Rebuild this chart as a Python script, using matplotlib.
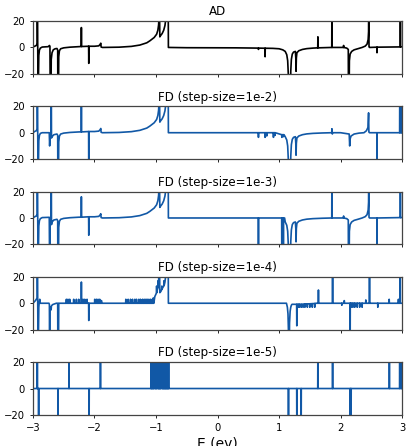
import numpy as np
import matplotlib
matplotlib.use("Agg")
import matplotlib.pyplot as plt

# ---------------- data ----------------
titles = ["AD", "FD (step-size=1e-2)", "FD (step-size=1e-3)",
          "FD (step-size=1e-4)", "FD (step-size=1e-5)"]
xticks = [-3, -2, -1, 0, 1, 2, 3]
yticks = [-20, 0, 20]
xlabel = "E (ev)"

# shared pole shape around E = -0.95 (values beyond +-20 are clipped)
pole_x = [-1.6, -1.4, -1.263, -1.15, -1.1, -1.03, -0.99, -0.97, -0.958, -0.949,
          -0.946, -0.938, -0.925, -0.9, -0.875, -0.855, -0.842, -0.838, -0.802, -0.799]
pole_y = [0.2, 0.8, 1.8, 3.5, 5, 7.5, 10, 13, 17, 25,
          40, 8, 9, 10.5, 13, 16.5, 21, 40, 40, 0]

# ---- AD ----
ad_x = [-3.0, -2.97, -2.945, -2.932, -2.929, -2.916, -2.905, -2.895, -2.88, -2.85,
        -2.75, -2.732, -2.724, -2.719, -2.708, -2.703, -2.69, -2.67, -2.64, -2.61,
        -2.598, -2.595, -2.586, -2.581, -2.57, -2.55, -2.5, -2.4, -2.25, -2.0,
        -1.93, -1.905, -1.898, -1.892, -1.87] + pole_x + [
        -0.5, 0.3, 0.62, 0.9, 1.0, 1.06, 1.1, 1.125, 1.14, 1.15,
        1.153, 1.186, 1.19, 1.2, 1.215, 1.235, 1.265, 1.272, 1.276, 1.281,
        1.29, 1.32, 1.38, 1.45, 1.55, 1.7, 2.0, 2.1, 2.125, 2.128,
        2.138, 2.143, 2.155, 2.18, 2.22, 2.28, 2.35, 2.4, 2.43, 2.448,
        2.455, 2.457, 2.462, 2.47, 2.8, 3.0]
ad_y = [0.3, 1.0, 1.5, 3, 40, -40, -6, -2, -0.5, 0.3,
        0.6, 1.5, 0.8, -40, -40, -9, -4, -1.8, -1.0, -0.8,
        -2, -40, -40, -7, -2.5, -1, -0.3, 0.2, 0.6, 0.9,
        1.2, 2.5, 3.2, 0.3, 0] + pole_y + [
        -0.2, -0.3, -0.5, -0.7, -1, -1.8, -3, -5.5, -10, -20,
        -40, -40, -18, -9, -5, -3.5, -3, -8, -18, -8,
        -4, -2.5, -1.5, -0.9, -0.5, -0.2, 0, -0.5, -1.5, -40,
        -40, -10, -5, -3, -1.8, -1, 0, 1, 2.5, 6,
        12, 40, 0.5, 0, 0.3, 0.5]
ad_sx = [-2.213, -2.093, 0.665, 0.773, 1.631, 1.859, 2.049, 2.592, 2.972]
ad_sy = [15, -12, -1.5, -7, 8, 40, 1.5, -4, 40]
ad_sb = [0.7, 0.9, -0.5, -0.6, -0.3, 0, 0, 0.2, 0.4]

# ---- FD 1e-2 ----
fd2_x = [-3.0, -2.97, -2.945, -2.932, -2.929, -2.916, -2.905, -2.895, -2.88, -2.85,
         -2.735, -2.729, -2.722, -2.706, -2.702, -2.699, -2.69, -2.66, -2.61,
         -2.598, -2.595, -2.586, -2.581, -2.57, -2.55, -2.5, -2.4, -2.25, -2.0,
         -1.93, -1.905, -1.898, -1.892, -1.87] + pole_x + [
         0.6, 1.08, 1.1, 1.125, 1.14, 1.15,
         1.153, 1.186, 1.19, 1.2, 1.215, 1.235, 1.265, 1.272, 1.276, 1.281,
         1.29, 1.32, 1.38, 1.45, 1.55, 1.7, 2.0, 2.14, 2.148, 2.153,
         2.17, 2.22, 2.3, 2.38, 2.42, 2.445, 2.455, 2.46, 2.47, 3.0]
fd2_y = [0, 1.0, 1.5, 3, 40, -40, -6, -2, -0.5, 0,
         0, -10, -3, -2, 40, -4, -3, -1.5, -1,
         -2, -40, -40, -7, -2.5, -1, -0.3, 0.2, 0.6, 0.9,
         1.2, 2.5, 3.2, 0.3, 0] + pole_y + [
         0, -1.5, -3, -5.5, -10, -20,
         -40, -40, -18, -9, -5, -3.5, -3, -8, -17, -8,
         -4, -2.5, -1.5, -0.9, -0.5, -0.2, 0, -1, -10, -5,
         -2.5, -1, -0.3, 0, 1.5, 4, 15, 0.5, 0, 0]
fd2_sx = [-2.213, -2.093, 0.665, 0.773, 0.80, 0.909, 0.935, 1.045, 1.07,
          1.859, 1.866, 2.592, 2.962, 2.985]
fd2_sy = [40, -40, -3.5, -3.5, -2.5, -3.5, -2, -3.5, -3,
          3, -1, -40, 40, 40]
fd2_sb = [0.6, 0.9, 0, 0, 0, 0, 0, -1.5, -1.5,
          0, 0, 0, 0, 0]

# ---- FD 1e-3 ----
fd3_x = [-3.0, -2.97, -2.945, -2.932, -2.929, -2.916, -2.905, -2.895, -2.88, -2.85,
         -2.735, -2.729, -2.722, -2.706, -2.702, -2.699, -2.69, -2.66, -2.61,
         -2.598, -2.595, -2.586, -2.581, -2.57, -2.55, -2.5, -2.4, -2.25, -2.0,
         -1.93, -1.905, -1.898, -1.892, -1.87] + pole_x + [
         1.09, 1.1, 1.125, 1.14, 1.15,
         1.153, 1.186, 1.19, 1.2, 1.215, 1.235, 1.265, 1.272, 1.276, 1.281,
         1.29, 1.32, 1.38, 1.45, 1.55, 1.7, 2.0, 2.1, 2.125, 2.128,
         2.138, 2.143, 2.155, 2.18, 2.22, 2.28, 2.35, 2.4, 2.43, 2.448,
         2.455, 2.457, 2.462, 2.47, 3.0]
fd3_y = [0, 1.0, 1.5, 3, 40, -40, -6, -2, -0.5, 0.3,
         0.5, -40, -5, -3, 40, -5, -3, -1.5, -1,
         -2, -40, -40, -7, -2.5, -1, -0.3, 0.2, 0.6, 0.9,
         1.2, 2.5, 3.2, 0.3, 0] + pole_y + [
         0, -3, -5.5, -10, -20,
         -40, -40, -18, -9, -5, -3.5, -3, -8, -18, -8,
         -4, -2.5, -1.5, -0.9, -0.5, -0.2, 0, -0.5, -1.5, -40,
         -40, -10, -5, -3, -1.8, -1, 0, 1, 2.5, 6,
         12, 40, 0.5, 0, 0.3]
fd3_sx = [-2.213, -2.093, 0.665, 1.045, 1.07, 1.859, 2.049, 2.592, 2.972]
fd3_sy = [16, -13, -40, -40, -40, 40, 1.5, -40, 40]
fd3_sb = [0.6, 0.9, 0, 0, 0, 0, 0, 0, 0.3]

# ---- FD 1e-4 ----
fd4_x = [-3.0, -2.96, -2.94, -2.932, -2.929, -2.916, -2.905, -2.9, -2.89, -2.885,
         -2.74, -2.733, -2.729, -2.725, -2.715, -2.705, -2.70, -2.68, -2.62, -2.598,
         -2.595, -2.586, -2.581, -1.035, -1.02, -1.0, -0.98, -0.96, -0.95,
         -0.946, -0.938, -0.92, -0.9, -0.875, -0.855, -0.842, -0.838, -0.802, -0.799,
         1.12, 1.135, 1.145, 1.152, 1.156, 1.166, 1.17, 1.18, 1.19, 1.2,
         1.21, 1.3, 1.5, 1.6, 3.0]
fd4_y = [0, 2, 3.5, 4, 40, -40, -3, 0, 3, 0,
         0, -1, -40, -5, -3, -5, -2, -1, 0, 0,
         -40, -40, 0, 0, 5, 7, 10, 15, 25,
         40, 8, 9, 11, 13, 16, 21, 40, 40, 0,
         0, -3, -8, -20, -40, -40, -15, -6, -3, -1.5,
         -0.8, -0.8, -0.5, 0, 0]
fd4_sx = [-2.457, -2.431, -2.403, -2.338, -2.294, -2.256, -2.213, -2.186, -2.158, -2.121,
          -2.093, -1.996, -1.969, -1.942, -1.915, -1.887,
          -1.491, -1.453, -1.415, -1.382, -1.344, -1.317, -1.279, -1.252, -1.219, -1.192,
          -1.165, -1.143, -1.116, -1.089, -1.06, -1.045, -0.99, -0.965, -0.905, -0.87,
          1.288, 1.31, 1.33, 1.36, 1.39, 1.42, 1.46, 1.50, 1.54, 1.58,
          1.64, 1.87, 2.02, 2.06, 2.155, 2.17, 2.20, 2.23, 2.27, 2.31, 2.35,
          2.41, 2.47, 2.605, 2.79, 2.94, 2.97]
fd4_sy = [3, 3, 3, 3, 3, 3, 16, 3, 3, 3,
          -13, 3, 3, 3, 3, 2,
          3, 3, 3, 3, 3, 3, 3, 3, 3, 3,
          3, 3, 3, 3, 3, 4, 13, 17, 13, 17,
          -17, -3, -3, -3, -3, -3, -3, -3, -3, -3,
          10, 40, -1.5, 2, -40, -3, -3, -3, -3, -3, -3,
          2.5, 40, -3, 3, 3, 40]
fd4_sb = [0, 0, 0, 0, 0, 0, 0, 0, 0, 0,
          0, 0, 0, 0, 0, 0,
          0, 0, 0, 0, 0, 0, 0, 0, 0, 0,
          0, 0, 0, 0, 0, 0, 8, 12, 10.5, 13.5,
          -0.8, -0.8, -0.8, -0.8, -0.8, -0.6, -0.5, -0.4, -0.3, -0.2,
          0, 0, 0, 0, 0, 0, 0, 0, 0, 0, 0,
          0, 0, 0, 0, 0, 0]

# ---- FD 1e-5 ----
fd5_x = [-3.0, 3.0]
fd5_y = [0, 0]
fd5_sx = [-2.929, -2.908, -2.593, -2.414, -2.088, -1.903,
          -1.082, -1.072, -1.062, -1.05, -1.04, -1.015, -1.003, -0.993, -0.965,
          -0.955, -0.945, -0.935, -0.925, -0.895, -0.885, -0.875, -0.865, -0.855,
          -0.845, -0.835, -0.825, -0.815, -0.805, -0.795,
          1.153, 1.289, 1.359, 1.631, 1.870, 2.157, 2.17, 2.793, 2.961, 2.99]
fd5_sy = [40, -40, -40, 40, -40, 40,
          40, 40, 40, 40, 40, 40, 40, 40, 40,
          40, 40, 40, 40, 40, 40, 40, 40, 40,
          40, 40, 40, 40, 40, 40,
          -40, -40, -40, 40, 40, -40, -40, 40, 40, 40]
fd5_sb = [0] * len(fd5_sx)

series = [
    (ad_x, ad_y, ad_sx, ad_sy, ad_sb, "black"),
    (fd2_x, fd2_y, fd2_sx, fd2_sy, fd2_sb, "#1158a6"),
    (fd3_x, fd3_y, fd3_sx, fd3_sy, fd3_sb, "#1158a6"),
    (fd4_x, fd4_y, fd4_sx, fd4_sy, fd4_sb, "#1158a6"),
    (fd5_x, fd5_y, fd5_sx, fd5_sy, fd5_sb, "#1158a6"),
]

SPIKE_W = 0.0025


def build(px, py, sx, sy, sb):
    pts = list(zip(px, py))
    for x, y, b in zip(sx, sy, sb):
        pts += [(x - SPIKE_W, b), (x, y), (x + SPIKE_W, b)]
    pts.sort(key=lambda p: p[0])
    arr = np.array(pts, dtype=float)
    return arr[:, 0], arr[:, 1]


# ---------------- figure ----------------
fig, axes = plt.subplots(5, 1, figsize=(4.07, 4.46), dpi=100, sharex=True)
fig.subplots_adjust(left=0.081, right=0.988, top=0.953, bottom=0.0695, hspace=0.61)

for ax, title, (px, py, sx, sy, sb, col) in zip(axes, titles, series):
    x, y = build(px, py, sx, sy, sb)
    ax.plot(x, y, color=col, lw=1.2)
    ax.set_xlim(-3, 3)
    ax.set_ylim(-20, 20)
    ax.set_yticks(yticks)
    ax.set_xticks(xticks)
    ax.set_title(title, fontsize=8.6, pad=4)
    ax.tick_params(labelsize=7.2, length=2.5, width=0.6)
    for s in ax.spines.values():
        s.set_linewidth(0.9)
        s.set_color("#444444")

axes[-1].set_xlabel(xlabel, fontsize=10, labelpad=2)

fig.savefig("out.png", dpi=100)
